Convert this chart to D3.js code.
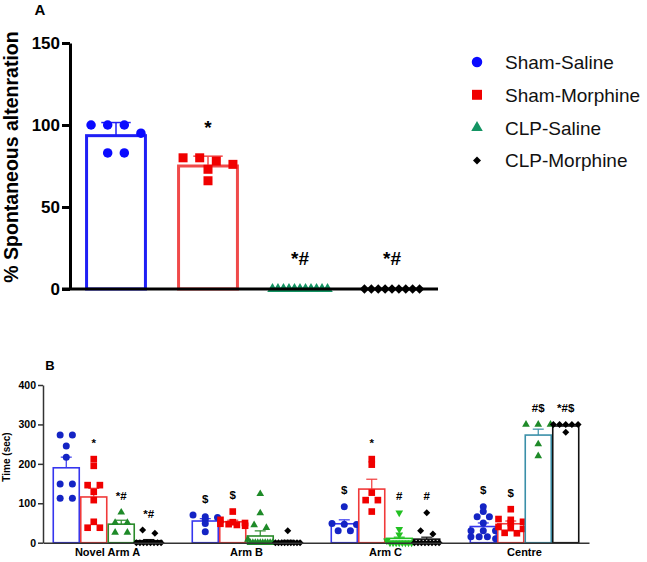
<!DOCTYPE html>
<html>
<head>
<meta charset="utf-8">
<script src="https://cdn.jsdelivr.net/npm/d3@7"></script>
<style>
  body { margin: 0; background: #fff; }
  svg { display: block; font-family: "Liberation Sans", Arial, sans-serif; }
</style>
</head>
<body>
<div id="chart"></div>
<script>
// ---- data ----
var groups = ['Sham-Saline', 'Sham-Morphine', 'CLP-Saline', 'CLP-Morphine'];

// panel A: % spontaneous alternation
var meanA = [93.5, 75, 0, 0];
var errA = [8, 6, 0, 0];
var pointsA = [
	[100, 100, 100, 95, 83, 83],
	[80, 80, 78, 76, 73, 66],
	[0, 0, 0, 0, 0, 0, 0, 0, 0, 0, 0],
	[0, 0, 0, 0, 0, 0, 0, 0, 0]
];
var marksA = ['', '*', '*#', '*#'];
var ticksA = [0, 50, 100, 150];

// panel B: time spent (sec), one row per arm, one column per group
var arms = ['Novel Arm A', 'Arm B', 'Arm C', 'Centre'];
var meanB = [
	[190, 116, 47, 5],
	[55, 53, 17, 3],
	[48, 136, 11, 9],
	[41, 48, 273, 296]
];
var errB = [
	[27, 22, 10, 3],
	[6, 4, 13, 3],
	[10, 25, 3, 5],
	[9, 7, 15, 3]
];
var pointsB = [
	[
		[273, 273, 245, 217, 149, 149, 113, 113],
		[212, 195, 146, 146, 129, 108, 53, 38, 38],
		[77, 51, 51, 26, 26],
		[32, 24, 0, 0, 0, 0, 0, 0, 0, 0]
	],
	[
		[70, 66, 64, 59, 49, 28],
		[79, 58, 52, 50, 48, 47, 45, 43],
		[124, 75, 45, 38, 8, 0, 0, 0, 0, 0, 0, 0, 0, 0, 0],
		[30, 0, 0, 0, 0, 0, 0, 0, 0, 0]
	],
	[
		[91, 49, 47, 46, 30, 30],
		[212, 198, 127, 108, 108, 79],
		[76, 34, 20, 5, 0, 0, 0, 0, 0, 0, 0, 0],
		[76, 30, 22, 0, 0, 0, 0, 0, 0, 0, 0]
	],
	[
		[91, 79, 66, 66, 50, 30, 30, 30, 15, 15, 15, 10],
		[85, 60, 58, 53, 50, 40, 37, 35, 25, 24],
		[300, 300, 300, 250, 220],
		[300, 300, 300, 300, 300, 280]
	]
];
var marksB = [
	['', '*', '*#', '*#'],
	['$', '$', '', ''],
	['$', '*', '#', '#'],
	['$', '$', '#$', '*#$']
];
var ticksB = [0, 100, 200, 300, 400];

// ---- styles ----
var pointColor = ['#0a0aff', '#f00000', '#149463', '#000000'];
var barColorA = ['#1f1ff5', '#f04a4a', '#149463', '#000000'];
var pointColorB = ['#1424c4', '#f00000', '#1e8a28', '#000000'];
var barColorB = ['#3636ee', '#f03a3a', '#2a8a2a', '#111111'];
var greenByArm = ['#1e8a28', '#1e8a28', '#22c022', '#1e8a28'];
var greenBarByArm = ['#2a8a2a', '#2a8a2a', '#22c022', '#3a8fa8'];
var shapes = [d3.symbolCircle, d3.symbolSquare, d3.symbolTriangle, d3.symbolSquare];

var svg = d3.select('#chart').append('svg').attr('width', 647).attr('height', 562);

// symbol path helper: d = approx. marker diameter
function symbolPath(i, d) {
	var area;
	if (i == 0) area = Math.PI * d * d / 4;
	else if (i == 1) area = d * d * 0.9;
	else if (i == 2) area = d * d * 0.52;
	else area = d * d * 0.5;
	return d3.symbol().type(shapes[i]).size(area)();
}
function symbolTransform(i, x, y, flip) {
	var r = i == 3 ? 45 : (flip ? 180 : 0);
	return 'translate(' + x + ',' + y + ') rotate(' + r + ')';
}

// spread points that sit closer than thr px side by side
function layout(vals, y, cx, bw, d, thr) {
	var s = vals.slice().sort(function(a, b) { return b - a; });
	var out = [];
	var i = 0;
	while (i < s.length) {
		var y0 = y(s[i]);
		var j = i;
		while (j < s.length && y(s[j]) - y0 < thr) j++;
		var n = j - i;
		var sp = n > 1 ? Math.min(d * 1.75, (bw - d * 0.4) / (n - 1)) : 0;
		for (var k = 0; k < n; k++) out.push({ v: s[i + k], x: cx + (k - (n - 1) / 2) * sp });
		i = j;
	}
	return out;
}

// ================= PANEL A =================
var yA = d3.scaleLinear().domain([0, 150]).range([289, 43]);
var xA = d3.scaleBand().domain(groups).range([70, 438]).paddingInner(0.36).paddingOuter(0.18);
var gA = svg.append('g');

gA.append('text').attr('x', 40).attr('y', 15).attr('text-anchor', 'middle')
	.attr('font-size', 15).attr('font-weight', 'bold').text('A');

groups.forEach(function(g, i) {
	var x0 = xA(g), bw = xA.bandwidth(), cx = x0 + bw / 2;
	var col = barColorA[i];
	if (meanA[i] > 0) {
		gA.append('rect').attr('x', x0).attr('y', yA(meanA[i]))
			.attr('width', bw).attr('height', yA(0) - yA(meanA[i]))
			.attr('fill', 'white').attr('stroke', col).attr('stroke-width', 3);
		gA.append('line').attr('x1', cx).attr('x2', cx)
			.attr('y1', yA(meanA[i])).attr('y2', yA(meanA[i] + errA[i]))
			.attr('stroke', col).attr('stroke-width', 1.5);
		gA.append('line').attr('x1', cx - bw * 0.25).attr('x2', cx + bw * 0.25)
			.attr('y1', yA(meanA[i] + errA[i])).attr('y2', yA(meanA[i] + errA[i]))
			.attr('stroke', col).attr('stroke-width', 1.5);
	}
	var d = 9.5;
	var pts = layout(pointsA[i], yA, cx, bw, d, d);
	gA.selectAll(null).data(pts).enter().append('path')
		.attr('d', symbolPath(i, d))
		.attr('transform', function(p) { return symbolTransform(i, p.x, yA(p.v)); })
		.attr('fill', pointColor[i]);
	if (marksA[i]) {
		var top = d3.min([yA(meanA[i] + errA[i]), d3.min(pts, function(p) { return yA(p.v); }) - d / 2]);
		gA.append('text').attr('x', cx).attr('y', top - 19).attr('text-anchor', 'middle')
			.attr('font-size', 19).attr('font-weight', 'bold').text(marksA[i]);
	}
});

var axA = gA.append('g').attr('transform', 'translate(70,0)')
	.call(d3.axisLeft(yA).tickValues(ticksA).tickSize(8).tickSizeOuter(0).tickPadding(2));
axA.select('.domain').attr('stroke-width', 3).attr('stroke', '#000');
axA.selectAll('.tick line').attr('stroke-width', 3).attr('stroke', '#000');
axA.selectAll('.tick text').attr('font-size', 17).attr('font-weight', 'bold')
	.attr('fill', '#000').attr('font-family', 'Liberation Sans, Arial, sans-serif');

gA.append('line').attr('x1', 62).attr('x2', 438).attr('y1', yA(0)).attr('y2', yA(0))
	.attr('stroke', '#000').attr('stroke-width', 3);

gA.append('text').attr('transform', 'translate(18,' + 157 + ') rotate(-90)')
	.attr('text-anchor', 'middle').attr('font-size', 19.5).attr('font-weight', 'bold')
	.text('% Spontaneous altenration');

// legend
var lg = svg.append('g').attr('transform', 'translate(477,62)');
groups.forEach(function(g, i) {
	var yy = i * 32.8;
	lg.append('path').attr('d', symbolPath(i, i == 3 ? 8 : 10.5))
		.attr('transform', symbolTransform(i, 0, yy))
		.attr('fill', pointColor[i]);
	lg.append('text').attr('x', 28).attr('y', yy + 7).attr('font-size', 19).attr('fill', '#111').text(g);
});

// ================= PANEL B =================
var yB = d3.scaleLinear().domain([0, 400]).range([542.7, 385]);
var xB0 = d3.scaleBand().domain(arms).range([43, 589]).paddingInner(0.209).paddingOuter(0.0685);
var xB1 = d3.scaleBand().domain(groups).range([0, xB0.bandwidth()]);
var gB = svg.append('g');

gB.append('text').attr('x', 50).attr('y', 370).attr('text-anchor', 'middle')
	.attr('font-size', 13).attr('font-weight', 'bold').text('B');

arms.forEach(function(a, ai) {
	groups.forEach(function(g, i) {
		var x0 = xB0(a) + xB1(g), bw = xB1.bandwidth(), cx = x0 + bw / 2;
		var m = meanB[ai][i], e = errB[ai][i];
		var pc = i == 2 ? greenByArm[ai] : pointColorB[i];
		var bc = i == 2 ? greenBarByArm[ai] : barColorB[i];
		gB.append('rect').attr('x', x0 + 0.75).attr('y', yB(m))
			.attr('width', bw - 1.5).attr('height', yB(0) - yB(m))
			.attr('fill', 'white').attr('stroke', bc).attr('stroke-width', 1.6);
		gB.append('line').attr('x1', cx).attr('x2', cx).attr('y1', yB(m)).attr('y2', yB(m + e))
			.attr('stroke', bc).attr('stroke-width', 1.2);
		gB.append('line').attr('x1', cx - bw * 0.2).attr('x2', cx + bw * 0.2)
			.attr('y1', yB(m + e)).attr('y2', yB(m + e))
			.attr('stroke', bc).attr('stroke-width', 1.2);
		var d = 7;
		var pts = layout(pointsB[ai][i], yB, cx, bw, d, 3.5);
		var flip = (i == 2 && a == 'Arm C');
		gB.selectAll(null).data(pts).enter().append('path')
			.attr('d', symbolPath(i, d))
			.attr('transform', function(p) { return symbolTransform(i, p.x, yB(p.v), flip); })
			.attr('fill', pc);
		if (marksB[ai][i]) {
			var top = d3.min([yB(m + e), d3.min(pts, function(p) { return yB(p.v); }) - d / 2]);
			gB.append('text').attr('x', cx).attr('y', top - 9).attr('text-anchor', 'middle')
				.attr('font-size', 11.5).attr('font-weight', 'bold').text(marksB[ai][i]);
		}
	});
});

var axB = gB.append('g').attr('transform', 'translate(43,0)')
	.call(d3.axisLeft(yB).tickValues(ticksB).tickSize(5).tickSizeOuter(0).tickPadding(2));
axB.select('.domain').attr('stroke-width', 1.5).attr('stroke', '#333');
axB.selectAll('.tick line').attr('stroke-width', 1.5).attr('stroke', '#333');
axB.selectAll('.tick text').attr('font-size', 10.5).attr('font-weight', 'bold')
	.attr('fill', '#000').attr('font-family', 'Liberation Sans, Arial, sans-serif');

var axBx = gB.append('g').attr('transform', 'translate(0,' + yB(0) + ')')
	.call(d3.axisBottom(xB0).tickSize(0).tickPadding(6).tickSizeOuter(0));
axBx.select('.domain').attr('stroke-width', 1.5).attr('stroke', '#333');
axBx.selectAll('.tick text').attr('font-size', 11).attr('font-weight', 'bold')
	.attr('fill', '#000').attr('font-family', 'Liberation Sans, Arial, sans-serif');

gB.append('text').attr('transform', 'translate(9.5,457) rotate(-90)')
	.attr('text-anchor', 'middle').attr('font-size', 10).attr('font-weight', 'bold')
	.text('Time (sec)');
</script>
</body>
</html>
